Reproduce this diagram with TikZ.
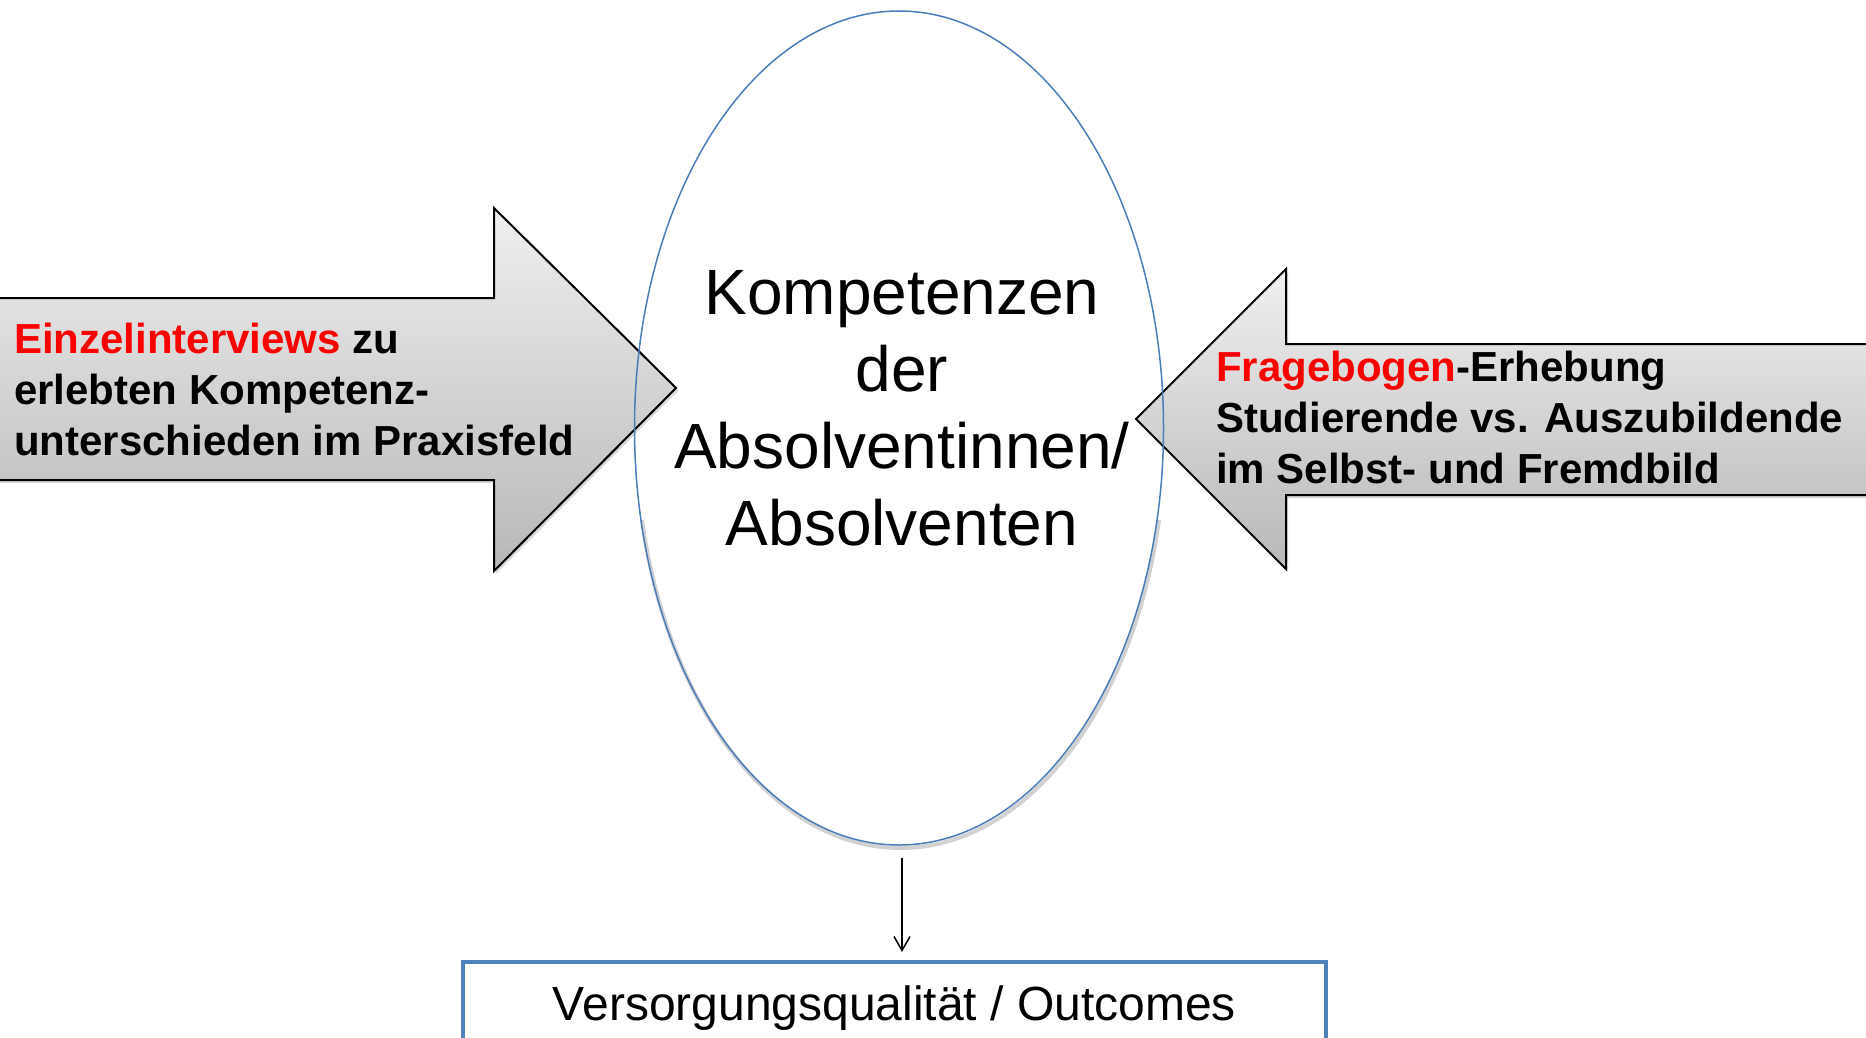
\documentclass[tikz,border=0pt]{standalone}
\usepackage{fontspec}
\setmainfont{Liberation Sans}
\usetikzlibrary{shapes.geometric,arrows.meta,shadows}
\definecolor{ellblue}{HTML}{4A7EBB}
\definecolor{boxblue}{HTML}{4F81BD}
\definecolor{hired}{HTML}{FF0000}
\begin{document}
\begin{tikzpicture}[x=1pt,y=-1pt,
  bigarrow/.style={draw=black, line width=2pt, line join=miter,
    top color=black!6, bottom color=black!28,
    drop shadow={opacity=0.3, shadow xshift=2pt, shadow yshift=-3pt}},
  arrowtext/.style={align=left, inner sep=0pt, anchor=west,
    font=\fontsize{42}{51}\selectfont\bfseries},
  ellstyle/.style={ellipse, draw=ellblue, line width=1.5pt, inner sep=0pt,
    minimum width=529pt, minimum height=834pt},
  ellshadow/.style={ellipse, draw=black, draw opacity=0.18, line width=4pt, inner sep=0pt,
    minimum width=529pt, minimum height=834pt},
  elltextstyle/.style={align=center, inner sep=0pt,
    font=\fontsize{64}{77}\selectfont},
  boxstyle/.style={draw=boxblue, line width=4pt, fill=white,
    minimum width=863pt, minimum height=92pt,
    font=\fontsize{48}{58}\selectfont},
  conn/.style={line width=1.5pt, -{Straight Barb[length=14pt,width=16pt]}}
]
\useasboundingbox (0,0) rectangle (1866,1037);
\clip (0,0) rectangle (1866,1037);

% left arrow
\draw[bigarrow] (-20,298) -- (494,298) -- (494,208) -- (676,388) -- (494,571) -- (494,480) -- (-20,480) -- cycle;
% right arrow
\draw[bigarrow] (1886,344) -- (1286,344) -- (1286,269) -- (1136,419) -- (1286,569) -- (1286,495) -- (1886,495) -- cycle;

% ellipse with soft shadow on its lower part
\begin{scope}
  \clip (0,520) rectangle (1866,1037);
  \node[ellshadow] (ellsh) at (900.5,431) {};
\end{scope}
\node[ellstyle] (ell) at (899,428) {};
\node[elltextstyle] (elltext) at (902,408) {Kompetenzen\\der\\Absolventinnen/\\Absolventen};

% arrow texts
\node[arrowtext] (lefttext) at (14,389) {\textcolor{hired}{Einzelinterviews} zu\\erlebten Kompetenz-\\unterschieden im Praxisfeld};
\node[arrowtext] (righttext) at (1216,417) {\textcolor{hired}{Fragebogen}-Erhebung\\Studierende vs. Auszubildende\\im Selbst- und Fremdbild};

% bottom box
\node[boxstyle] (box) at (894.5,1008) {Versorgungsqualität / Outcomes};

% connector
\draw[conn] ([xshift=3pt,yshift=-12pt]ell.south) -- ([xshift=7.5pt,yshift=8pt]box.north);
\end{tikzpicture}
\end{document}
